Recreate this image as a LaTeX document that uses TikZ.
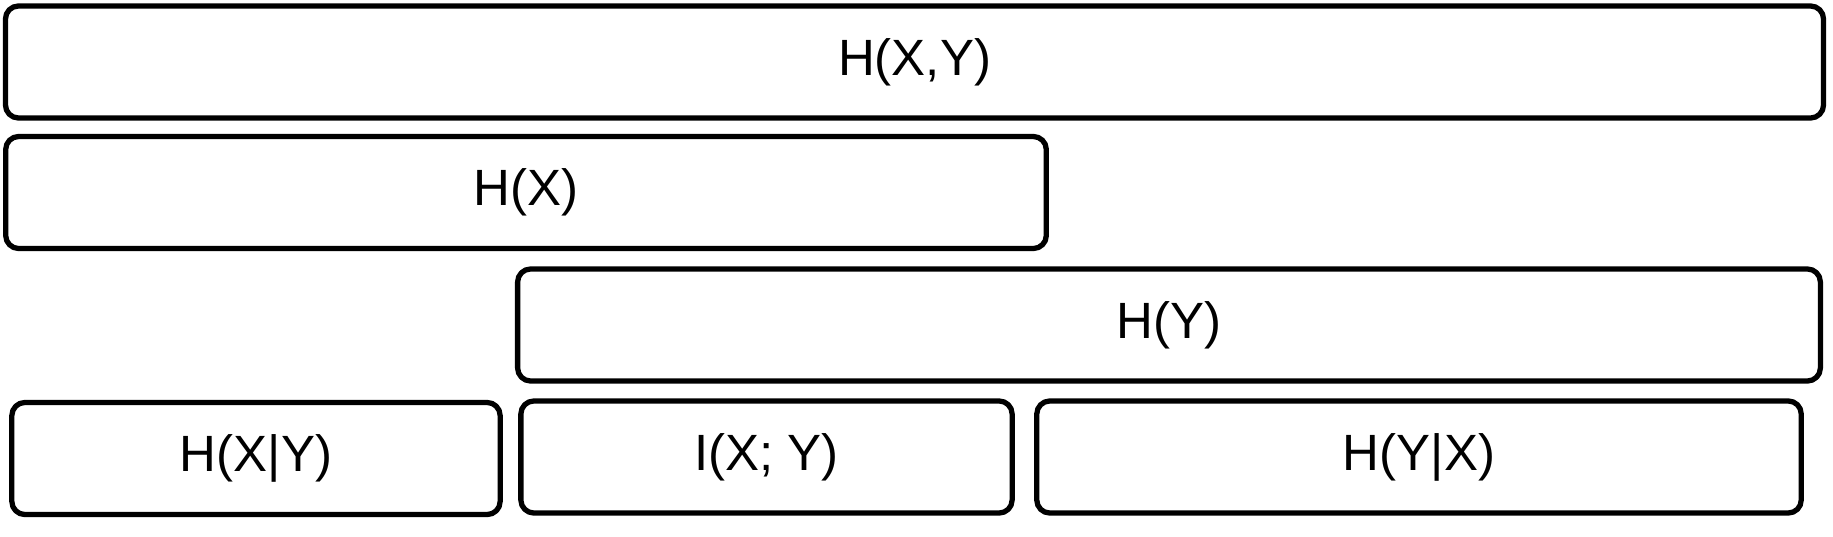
\documentclass[tikz,border=0pt]{standalone}
\usepackage{fontspec}
\setmainfont{Liberation Sans}
\tikzset{
  blok/.style={draw, line width=1.5pt, rounded corners=0.13cm, inner sep=0pt,
    minimum height=1.12cm, font=\fontsize{14.5}{17}\selectfont},
}
\begin{document}
\begin{tikzpicture}[x=0.01cm, y=-0.01cm, line join=round]
		\useasboundingbox (0,0) rectangle (1833,536);
		%========joint entropy
		\node[blok, minimum width=18.17cm] (HXY) at (914.5,62) {H(X,Y)};
		%========marginal entropies
		\node[blok, minimum width=10.40cm] (HX) at (526,192.5) {H(X)};
		\node[blok, minimum width=13.02cm] (HY) at (1169,325) {H(Y)};
		%========split into three parts
		\node[blok, minimum width=4.88cm] (HXgY) at (256,458.5) {H(X|Y)};
		\node[blok, minimum width=4.91cm] (IXY) at (766.5,457) {I(X; Y)};
		\node[blok, minimum width=7.64cm] (HYgX) at (1419,457) {H(Y|X)};
\end{tikzpicture}
\end{document}
